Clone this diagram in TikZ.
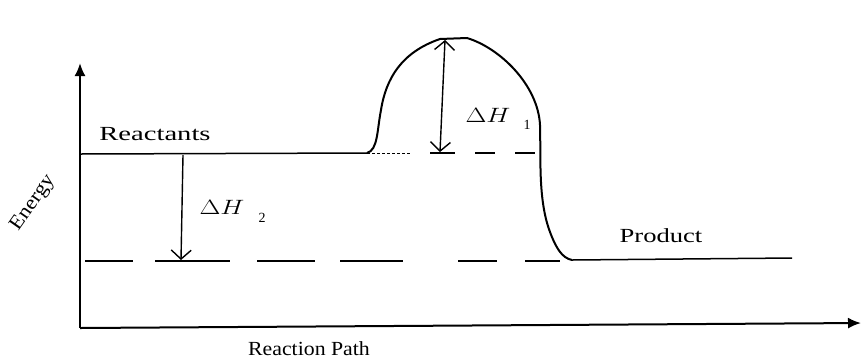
\documentclass[tikz,border=0pt]{standalone}
\usepackage{fontspec}
\setmainfont{Liberation Serif}
\usetikzlibrary{arrows.meta}
\newcommand\sx[2]{\scalebox{#1}[1]{#2}}
\begin{document}
\begin{tikzpicture}[x=1pt,y=-1pt,
  axis/.style={line width=2pt,-{Latex[length=13pt,width=11pt]}},
  curve/.style={line width=2pt},
  level/.style={line width=1.5pt},
  dashlvl/.style={line width=1.6pt},
  barb/.tip={Straight Barb[length=9pt,width=20pt]},
  lbl/.style={inner sep=0pt,font=\fontsize{20}{20}\selectfont},
  sub/.style={inner sep=0pt,font=\fontsize{14}{14}\selectfont}]
\useasboundingbox (0,0) rectangle (864,360);
\fill[white] (0,0) rectangle (864,360);
% axes
\coordinate (O) at (80,328);
\coordinate (Ytop) at (80,63);
\coordinate (Xend) at (861,323);
\draw[axis] (O) -- (Ytop);
\draw[axis] (O) -- (Xend);
% reactants level
\coordinate (R0) at (80,154);
\coordinate (R1) at (367,153);
\draw[level] (R0) -- (R1);
\draw[line width=0.8pt,dash pattern=on 3pt off 2pt] (367,153) -- (410,153);
\foreach \a/\b in {430/455,475/495,515/535}
  \draw[dashlvl] (\a,153) -- (\b,153);
% energy curve
\coordinate (Peak) at (445,38);
\coordinate (P1) at (572,260);
\draw[curve] (R1) .. controls (378,150) and (377,130) .. (381,110)
  .. controls (386,78) and (402,52) .. (440,39) -- (467,38)
  .. controls (500,48) and (538,85) .. (540,125)
  .. controls (541,160) and (538,200) .. (550,232)
  .. controls (556,248) and (562,258) .. (P1);
% product level
\coordinate (P2) at (792,258);
\draw[level] (P1) -- (P2);
% lower dashed line
\foreach \a/\b in {85/133,155/230,257/315,340/403,458/497,525/560}
  \draw[dashlvl] (\a,261) -- (\b,261);
% Delta H1 arrow
\coordinate (H1t) at (445,40);
\coordinate (H1b) at (440,152);
\draw[line width=1.4pt,barb-barb] (H1t) -- (H1b);
% Delta H2 arrow
\coordinate (H2t) at (183,155);
\coordinate (H2b) at (181,260);
\draw[line width=1.4pt,-barb] (H2t) -- (H2b);
% labels
\node[lbl] (react) at (155,134) {\sx{1.43}{Reactants}};
\node[lbl] (prod) at (661,236) {\sx{1.33}{Product}};
\node[lbl] (path) at (309,349) {\sx{1.09}{Reaction Path}};
\node[lbl,rotate=55] (energy) at (33,203) {\sx{1.1}{Energy}};
\node[lbl,font=\fontsize{22}{22}\selectfont] (dh1) at (488,115) {\sx{1.3}{$\Delta H$}};
\node[sub] (dh1s) at (527,125) {1};
\node[lbl,font=\fontsize{20}{20}\selectfont] (dh2) at (222,207) {\sx{1.3}{$\Delta H$}};
\node[sub] (dh2s) at (262,218) {2};
\end{tikzpicture}
\end{document}
